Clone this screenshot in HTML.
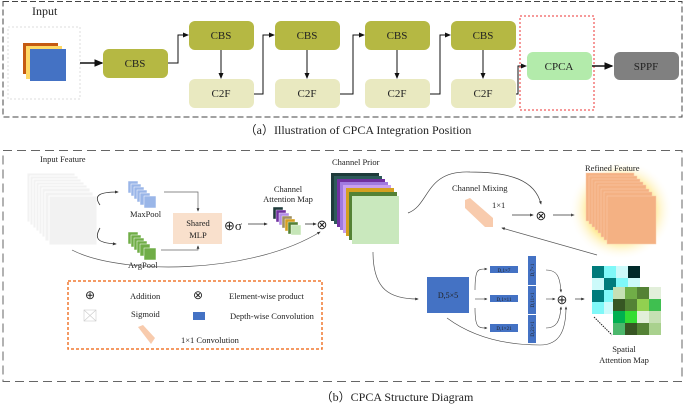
<!DOCTYPE html>
<html><head><meta charset="utf-8"><style>
body{margin:0;background:#fff}
svg{display:block}
text{font-family:"Liberation Serif",serif;fill:#222}
</style></head><body>
<svg width="685" height="407" viewBox="0 0 685 407" xmlns="http://www.w3.org/2000/svg">
<defs>
<marker id="a" markerWidth="6" markerHeight="6" refX="5" refY="3" orient="auto"><path d="M0,0.5 L6,3 L0,5.5z" fill="#111"/></marker>
<marker id="s" markerWidth="5" markerHeight="5" refX="4" refY="2.5" orient="auto"><path d="M0,0.5 L5,2.5 L0,4.5z" fill="#333"/></marker>
<radialGradient id="g"><stop offset="0.6" stop-color="#ffe680"/><stop offset="1" stop-color="#fff" stop-opacity="0"/></radialGradient>
</defs>
<!-- (a) -->
<rect x="3" y="1.5" width="679" height="115.5" fill="none" stroke="#444" stroke-dasharray="6,3"/>
<text x="32" y="15" font-size="12">Input</text>
<rect x="8" y="27" width="72" height="72" fill="none" stroke="#ddd" stroke-dasharray="2,2"/>
<rect x="23" y="43" width="35" height="31" fill="#c55a11"/>
<rect x="26" y="46" width="36" height="33" fill="#ffd966"/>
<rect x="30" y="49" width="36" height="32" fill="#4472c4"/>
<g font-size="11" text-anchor="middle">
<line x1="80" y1="63" x2="102" y2="63" stroke="#111" stroke-width="1.5" marker-end="url(#a)"/>
<rect x="103" y="49" width="65" height="29" rx="6" fill="#b5b843"/><text x="135" y="67">CBS</text>
<g id="col">
<rect x="189" y="21" width="65" height="29" rx="6" fill="#b5b843"/><text x="221" y="39">CBS</text>
<rect x="189" y="79" width="65" height="29" rx="6" fill="#e9e9c0"/><text x="221" y="97">C2F</text>
<line x1="221" y1="50" x2="221" y2="78" stroke="#111" marker-end="url(#a)"/>
</g>
<use href="#col" x="86"/><use href="#col" x="176"/><use href="#col" x="262"/>
<path d="M168,63 H178 V35 H188" fill="none" stroke="#111" marker-end="url(#a)"/>
<path d="M254,94 H263 V35 H274" fill="none" stroke="#111" marker-end="url(#a)"/>
<path d="M340,94 H353 V35 H364" fill="none" stroke="#111" marker-end="url(#a)"/>
<path d="M430,94 H440 V35 H450" fill="none" stroke="#111" marker-end="url(#a)"/>
<path d="M516,94 H518 V66 H526" fill="none" stroke="#111" marker-end="url(#a)"/>
<rect x="520" y="16" width="74" height="94" fill="none" stroke="#e33" stroke-dasharray="2,2"/>
<rect x="527" y="52" width="65" height="28" rx="6" fill="#b3ebab"/><text x="559" y="70">CPCA</text>
<line x1="592" y1="66" x2="612" y2="66" stroke="#111" stroke-width="1.5" marker-end="url(#a)"/>
<rect x="614" y="52" width="65" height="28" rx="6" fill="#808080"/><text x="646" y="70">SPPF</text>
</g>
<text x="358" y="134" font-size="12" text-anchor="middle" font-family="Liberation Serif,Noto Serif CJK SC,serif">（a）Illustration of CPCA Integration Position</text>
<!-- (b) -->
<rect x="3" y="150.5" width="679" height="231" fill="none" stroke="#666" stroke-dasharray="9,5"/>
<text x="397" y="401" font-size="12" text-anchor="middle" font-family="Liberation Serif,Noto Serif CJK SC,serif">（b）CPCA Structure Diagram</text>
<g font-size="8.5">
<text x="40" y="162">Input Feature</text>
<g fill="#f2f2f2" stroke="#fff" stroke-width="0.8">
<rect x="27" y="173" width="48" height="49"/><rect x="30" y="176" width="48" height="49"/><rect x="33" y="179" width="48" height="49"/><rect x="36" y="182" width="48" height="49"/><rect x="39" y="185" width="48" height="49"/><rect x="42" y="188" width="48" height="49"/><rect x="45" y="192" width="48" height="49"/><rect x="49" y="196" width="48" height="49"/>
</g>
<path d="M100,205 C93,195 100,192 118,192" fill="none" stroke="#333" stroke-width="0.8" marker-end="url(#s)"/>
<path d="M100,228 C93,240 100,243 116,244" fill="none" stroke="#333" stroke-width="0.8" marker-end="url(#s)"/>
<g fill="#9ab6e8" stroke="#fff" stroke-width="0.5">
<rect x="128" y="181" width="10" height="12"/><rect x="131" y="184" width="10" height="12"/><rect x="134" y="187" width="10" height="12"/><rect x="137" y="190" width="10" height="12"/><rect x="140" y="193" width="10" height="12"/><rect x="144" y="196" width="12" height="12"/>
</g>
<text x="130" y="217">MaxPool</text>
<g fill="#70ad47" stroke="#fff" stroke-width="0.5">
<rect x="128" y="232" width="10" height="12"/><rect x="131" y="235" width="10" height="12"/><rect x="134" y="238" width="10" height="12"/><rect x="137" y="241" width="10" height="12"/><rect x="140" y="244" width="10" height="12"/><rect x="144" y="248" width="12" height="12"/>
</g>
<text x="128" y="268">AvgPool</text>
<path d="M164,192 H198 V211" fill="none" stroke="#666" stroke-width="0.7" marker-end="url(#s)"/>
<path d="M161,250 H198 V246" fill="none" stroke="#666" stroke-width="0.7" marker-end="url(#s)"/>
<rect x="173" y="213" width="49" height="31" fill="#f9e0cc"/>
<text x="198" y="226" text-anchor="middle">Shared</text><text x="198" y="238" text-anchor="middle">MLP</text>
<text x="224" y="230" font-size="13">⊕σ</text>
<line x1="248" y1="224" x2="267" y2="224" stroke="#333" stroke-width="0.8" marker-end="url(#s)"/>
<text x="288" y="192" text-anchor="middle">Channel</text><text x="288" y="202" text-anchor="middle">Attention Map</text>
<g stroke="#fff" stroke-width="0.4">
<rect x="273" y="207" width="10" height="12" fill="#1f3b3b"/><rect x="276" y="210" width="10" height="12" fill="#7030a0"/><rect x="279" y="213" width="10" height="12" fill="#b38de8"/><rect x="282" y="216" width="10" height="12" fill="#a09060"/><rect x="285" y="219" width="10" height="12" fill="#d4a020"/><rect x="288" y="222" width="10" height="12" fill="#548235"/><rect x="291" y="225" width="10" height="10" fill="#c6e6b8"/>
</g>
<line x1="305" y1="224" x2="316" y2="224" stroke="#333" stroke-width="0.8" marker-end="url(#s)"/>
<text x="322" y="229" font-size="13" text-anchor="middle">⊗</text>
<path d="M72,250 C120,275 250,275 320,232" fill="none" stroke="#555" stroke-width="0.7" marker-end="url(#s)"/>
<text x="332" y="165">Channel Prior</text>
<g>
<rect x="331" y="173" width="48" height="48" fill="#1f3b3b"/><rect x="334" y="176" width="48" height="48" fill="#2e5a5a"/><rect x="337" y="179" width="48" height="48" fill="#7030a0"/><rect x="340" y="182" width="48" height="48" fill="#a07ae0"/><rect x="343" y="185" width="48" height="48" fill="#c9a0f0"/><rect x="346" y="188" width="48" height="48" fill="#d4a020"/><rect x="349" y="192" width="48" height="48" fill="#548235"/><rect x="352" y="196" width="47" height="48" fill="#c9e8bd"/>
</g>
<!-- legend -->
<rect x="68" y="281" width="254" height="68" fill="none" stroke="#f07830" stroke-width="1.5" stroke-dasharray="3,2"/>
<text x="90" y="299" font-size="12" text-anchor="middle">⊕</text><text x="130" y="299">Addition</text>
<text x="198" y="299" font-size="12" text-anchor="middle">⊗</text><text x="229" y="299">Element-wise product</text>
<rect x="84" y="310" width="12" height="11" fill="none" stroke="#ccc" stroke-width="0.6"/><path d="M84,310 L96,321 M96,310 L84,321" stroke="#ccc" stroke-width="0.6"/>
<text x="131" y="317">Sigmoid</text>
<rect x="193" y="312" width="12" height="8" fill="#4472c4"/><text x="230" y="319">Depth-wise Convolution</text>
<path d="M138,327 L143,325 L155,338 L151,344 Z" fill="#f8cbad"/>
<text x="181" y="343">1×1 Convolution</text>
<!-- right part -->
<path d="M408,213 C430,205 425,170 470,172 C510,172 535,180 541,204" fill="none" stroke="#444" stroke-width="0.7" marker-end="url(#s)"/>
<text x="452" y="191">Channel Mixing</text>
<path d="M465,200 L470,198 L493,218 L493,227 L485,227 L465,208 Z" fill="#f8cbad"/>
<text x="492" y="208">1×1</text>
<line x1="512" y1="215" x2="533" y2="215" stroke="#333" stroke-width="0.8" marker-end="url(#s)"/>
<text x="541" y="220" font-size="13" text-anchor="middle">⊗</text>
<line x1="553" y1="215" x2="574" y2="215" stroke="#333" stroke-width="0.8" marker-end="url(#s)"/>
<ellipse cx="621" cy="210" rx="52" ry="50" fill="url(#g)"/>
<text x="585" y="171" fill="#333">Refined Feature</text>
<g fill="#f4b183" stroke="#f9d0b0" stroke-width="0.5">
<rect x="586" y="173" width="48" height="48"/><rect x="589" y="176" width="48" height="48"/><rect x="592" y="179" width="48" height="48"/><rect x="595" y="182" width="48" height="48"/><rect x="598" y="185" width="48" height="48"/><rect x="601" y="189" width="48" height="48"/><rect x="604" y="192" width="48" height="48"/><rect x="607" y="196" width="49" height="48"/>
</g>
<line x1="597" y1="255" x2="502" y2="228" stroke="#555" stroke-width="0.7" marker-end="url(#s)"/>
<path d="M373,252 C373,290 390,299 418,299" fill="none" stroke="#555" stroke-width="0.7" marker-end="url(#s)"/>
<rect x="427" y="277" width="42" height="36" fill="#4472c4"/>
<text x="448" y="298" text-anchor="middle" font-size="8" fill="#fff">D,5×5</text>
<path d="M475,290 C475,268 478,269 487,269" fill="none" stroke="#444" stroke-width="0.6" marker-end="url(#s)"/>
<line x1="475" y1="299" x2="487" y2="299" stroke="#444" stroke-width="0.6" marker-end="url(#s)"/>
<path d="M475,308 C475,328 478,328 487,328" fill="none" stroke="#444" stroke-width="0.6" marker-end="url(#s)"/>
<g font-size="5" fill="#fff" text-anchor="middle">
<rect x="490" y="266" width="28" height="7" fill="#4472c4"/><text x="504" y="272" fill="#fff">D,1×7</text>
<rect x="490" y="295" width="28" height="7" fill="#4472c4"/><text x="504" y="301" fill="#fff">D,1×11</text>
<rect x="490" y="324" width="28" height="8" fill="#4472c4"/><text x="504" y="330" fill="#fff">D,1×21</text>
<rect x="528" y="256" width="8" height="29" fill="#4472c4"/><text transform="translate(534,270) rotate(-90)" fill="#fff">D,7×1</text>
<rect x="528" y="286" width="8" height="28" fill="#4472c4"/><text transform="translate(534,300) rotate(-90)" fill="#fff">D,11×1</text>
<rect x="528" y="315" width="8" height="28" fill="#4472c4"/><text transform="translate(534,329) rotate(-90)" fill="#fff">D,21×1</text>
</g>
<path d="M546,270 C556,270 560,275 561,292" fill="none" stroke="#444" stroke-width="0.6" marker-end="url(#s)"/>
<line x1="546" y1="299" x2="555" y2="299" stroke="#444" stroke-width="0.6" marker-end="url(#s)"/>
<path d="M546,328 C556,328 560,322 561,307" fill="none" stroke="#444" stroke-width="0.6" marker-end="url(#s)"/>
<path d="M447,318 C470,335 500,345 540,345 C560,345 566,330 566,307" fill="none" stroke="#444" stroke-width="0.6" marker-end="url(#s)"/>
<text x="562" y="304" font-size="13" text-anchor="middle">⊕</text>
<line x1="575" y1="299" x2="584" y2="299" stroke="#333" stroke-width="0.7" marker-end="url(#s)"/>
<g>
<rect x="592" y="266" width="12" height="12" fill="#007b7b"/><rect x="604" y="266" width="12" height="12" fill="#7ff8f8"/><rect x="616" y="266" width="12" height="12" fill="#ccfafa"/><rect x="628" y="266" width="12" height="12" fill="#002a2a"/>
<rect x="592" y="278" width="12" height="12" fill="#ccfafa"/><rect x="604" y="278" width="12" height="12" fill="#007b7b"/><rect x="616" y="278" width="12" height="12" fill="#7ff8f8"/><rect x="628" y="278" width="12" height="12" fill="#ccfafa"/>
<rect x="592" y="290" width="12" height="12" fill="#007b7b"/><rect x="604" y="290" width="12" height="12" fill="#7ff8f8"/>
<rect x="592" y="302" width="12" height="12" fill="#7ff8f8"/><rect x="604" y="302" width="12" height="12" fill="#ccfafa"/>
<rect x="613" y="287" width="12" height="12" fill="#c6e0b4"/><rect x="625" y="287" width="12" height="12" fill="#70ad47"/><rect x="637" y="287" width="12" height="12" fill="#548235"/><rect x="649" y="287" width="12" height="12" fill="#e2efda"/>
<rect x="613" y="299" width="12" height="12" fill="#375623"/><rect x="625" y="299" width="12" height="12" fill="#548235"/><rect x="637" y="299" width="12" height="12" fill="#92d050"/><rect x="649" y="299" width="12" height="12" fill="#3fbf50"/>
<rect x="613" y="311" width="12" height="12" fill="#00b050"/><rect x="625" y="311" width="12" height="12" fill="#33dd33"/><rect x="637" y="311" width="12" height="12" fill="#e2efda"/><rect x="649" y="311" width="12" height="12" fill="#c6e0b4"/>
<rect x="613" y="323" width="12" height="12" fill="#4cb86c"/><rect x="625" y="323" width="12" height="12" fill="#375623"/><rect x="637" y="323" width="12" height="12" fill="#548235"/><rect x="649" y="323" width="12" height="12" fill="#a9d18e"/>
</g>
<line x1="594" y1="317" x2="612" y2="335" stroke="#222" stroke-dasharray="1.5,1"/>
<text x="624" y="352" text-anchor="middle">Spatial</text>
<text x="624" y="363" text-anchor="middle">Attention Map</text>
</g>
</svg>
</body></html>
